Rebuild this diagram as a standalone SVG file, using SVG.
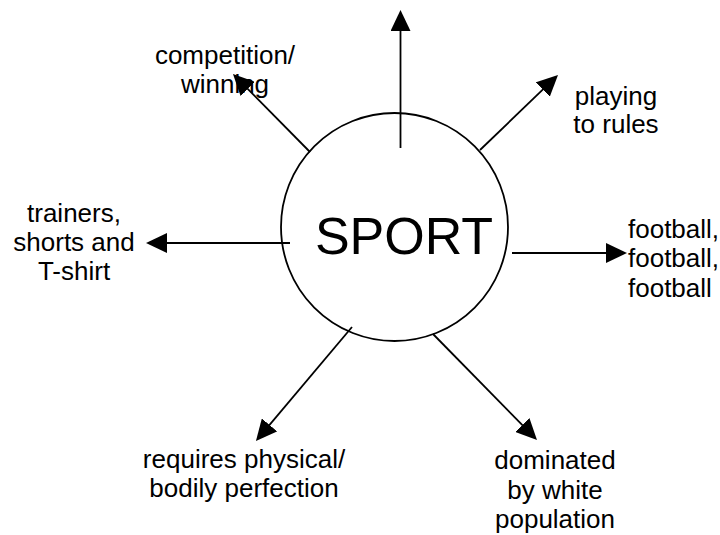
<svg xmlns="http://www.w3.org/2000/svg" width="720" height="535" viewBox="0 0 720 535">
<style>
.lbl{font-family:"Liberation Sans",Arial,sans-serif;font-size:26px;fill:#000;text-anchor:middle}
.conn{stroke:#000;stroke-width:1.8;fill:none;marker-end:url(#ah)}
</style>
<defs>
<marker id="ah" markerUnits="userSpaceOnUse" markerWidth="22" markerHeight="20" refX="11" refY="10" orient="auto" viewBox="0 0 22 20">
<path d="M0,0 L21,10 L0,20 z" fill="#000"/>
</marker>
</defs>
<rect width="720" height="535" fill="#fff"/>
<g id="sport">
<ellipse cx="394.5" cy="227" rx="113.5" ry="114" fill="#fff" stroke="#000" stroke-width="1.8"/>
<text class="lbl" x="404" y="254" style="font-size:52px">SPORT</text>
</g>
<g id="competition">
<text class="lbl" x="225" y="64">competition/</text>
<text class="lbl" x="225" y="93">winning</text>
</g>
<g id="playing">
<text class="lbl" x="616" y="105">playing</text>
<text class="lbl" x="616" y="133">to rules</text>
</g>
<g id="trainers">
<text class="lbl" x="74" y="222">trainers,</text>
<text class="lbl" x="74" y="251">shorts and</text>
<text class="lbl" x="74" y="280">T-shirt</text>
</g>
<g id="football">
<text class="lbl" x="628" y="238" style="text-anchor:start">football,</text>
<text class="lbl" x="628" y="267" style="text-anchor:start">football,</text>
<text class="lbl" x="628" y="297" style="text-anchor:start">football</text>
</g>
<g id="requires">
<text class="lbl" x="244" y="468">requires physical/</text>
<text class="lbl" x="244" y="497">bodily perfection</text>
</g>
<g id="dominated">
<text class="lbl" x="555" y="469">dominated</text>
<text class="lbl" x="555" y="499">by white</text>
<text class="lbl" x="555" y="528">population</text>
</g>
<g id="connectors">
<line class="conn" x1="400.5" y1="148" x2="400.5" y2="20"/>
<line class="conn" x1="310" y1="152" x2="240" y2="81.1"/>
<line class="conn" x1="480" y1="150" x2="550.8" y2="81.9"/>
<line class="conn" x1="290" y1="243" x2="156" y2="243"/>
<line class="conn" x1="512" y1="253" x2="617" y2="253"/>
<line class="conn" x1="352" y1="327" x2="262.4" y2="433.3"/>
<line class="conn" x1="433" y1="334" x2="530" y2="432.9"/>
</g>
</svg>
